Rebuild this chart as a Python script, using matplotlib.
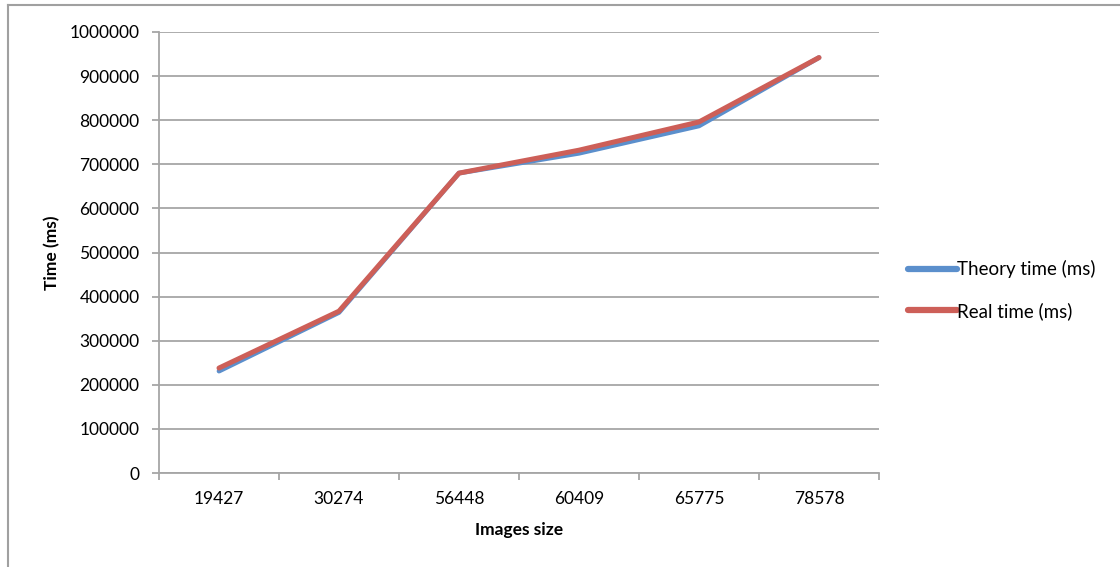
import matplotlib
matplotlib.use("Agg")
import matplotlib.pyplot as plt
from matplotlib.lines import Line2D

plt.rcParams['font.family'] = ['Lato', 'DejaVu Sans']

categories = ["19427", "30274", "56448", "60409", "65775", "78578"]
theory_time = [231000, 364000, 680000, 725000, 787000, 942000]
real_time = [238000, 367000, 680000, 732000, 796000, 942000]
y_ticks = [0, 100000, 200000, 300000, 400000, 500000, 600000, 700000, 800000, 900000, 1000000]

blue = "#5B8FCC"
red = "#CD5F58"
grid_grey = "#A6A6A6"

fig = plt.figure(figsize=(11.2, 5.67), dpi=100)
ax = fig.add_axes([159 / 1120, 94 / 567, 720 / 1120, 441 / 567])

x = range(len(categories))
ax.plot(x, theory_time, color=blue, lw=3.4, solid_capstyle="round",
        solid_joinstyle="round", label="Theory time (ms)", zorder=3)
ax.plot(x, real_time, color=red, lw=3.6, solid_capstyle="round",
        solid_joinstyle="round", label="Real time (ms)", zorder=4)

ax.set_xlim(-0.5, len(categories) - 0.5)
ax.set_ylim(0, 1000000)
ax.set_yticks(y_ticks)
ax.set_yticklabels([str(v) for v in y_ticks])
ax.set_xticks(list(x))
ax.set_xticklabels(categories)
ax.set_xticks([i - 0.5 for i in range(len(categories) + 1)], minor=True)

ax.yaxis.grid(True, color=grid_grey, lw=1.3)
ax.set_axisbelow(True)
for s in ("top", "right"):
    ax.spines[s].set_visible(False)
for s in ("left", "bottom"):
    ax.spines[s].set_color(grid_grey)
    ax.spines[s].set_linewidth(1.3)

ax.tick_params(axis="y", which="major", length=5, width=1.3, color=grid_grey,
               labelsize=12.5, pad=9)
ax.tick_params(axis="x", which="major", length=0, labelsize=12.5, pad=13)
ax.tick_params(axis="x", which="minor", length=5, width=1.3, color=grid_grey)

ax.set_xlabel("Images size", fontsize=12.5, fontweight="bold")
ax.set_ylabel("Time (ms)", fontsize=12.5, fontweight="bold")
ax.xaxis.set_label_coords(0.5, (473 - 522) / 441)
ax.yaxis.set_label_coords((60 - 159) / 720, 0.5)

leg = fig.legend(loc="center left", bbox_to_anchor=(891 / 1120, 1 - 290 / 567),
                 frameon=False, fontsize=13.5, handlelength=2.6,
                 handletextpad=0.0, labelspacing=1.25)
for h in leg.get_lines():
    h.set_linewidth(4.5)
    h.set_solid_capstyle("round")

# outer chart frame
fig.add_artist(Line2D([7.5 / 1120, 7.5 / 1120], [0, 1 - 4.5 / 567],
                      transform=fig.transFigure, color="#A0A0A0", lw=1.5))
fig.add_artist(Line2D([7.5 / 1120, 1], [1 - 4.5 / 567, 1 - 4.5 / 567],
                      transform=fig.transFigure, color="#A0A0A0", lw=1.5))

fig.savefig("out.png", dpi=100, facecolor="white")
